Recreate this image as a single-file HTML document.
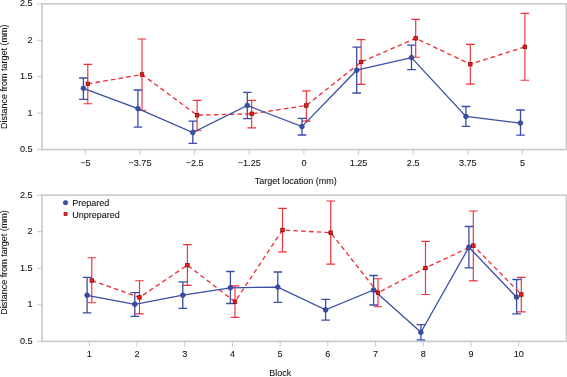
<!DOCTYPE html>
<html><head><meta charset="utf-8"><style>
html,body{margin:0;padding:0;background:#fff;width:567px;height:377px;overflow:hidden}
svg{display:block;will-change:transform;filter:blur(0.3px)}
text{font-family:"Liberation Sans",sans-serif;font-size:9.0px;fill:#111;stroke:#111;stroke-width:0.08px}
text.t{font-size:9.1px}
</style></head><body>
<svg width="567" height="377" viewBox="0 0 567 377">
<rect x="42.0" y="3.8" width="524.4" height="145.79999999999998" fill="none" stroke="#c9c9c9" stroke-width="1.6"/>
<line x1="37" y1="149.60" x2="42.0" y2="149.60" stroke="#c9c9c9" stroke-width="1"/>
<text class="t" x="32.6" y="152.20" text-anchor="end">0.5</text>
<line x1="37" y1="113.15" x2="42.0" y2="113.15" stroke="#c9c9c9" stroke-width="1"/>
<text class="t" x="32.6" y="115.75" text-anchor="end">1</text>
<line x1="37" y1="76.70" x2="42.0" y2="76.70" stroke="#c9c9c9" stroke-width="1"/>
<text class="t" x="32.6" y="79.30" text-anchor="end">1.5</text>
<line x1="37" y1="40.25" x2="42.0" y2="40.25" stroke="#c9c9c9" stroke-width="1"/>
<text class="t" x="32.6" y="42.85" text-anchor="end">2</text>
<line x1="37" y1="3.80" x2="42.0" y2="3.80" stroke="#c9c9c9" stroke-width="1"/>
<text class="t" x="32.6" y="6.40" text-anchor="end">2.5</text>
<line x1="85.35" y1="149.6" x2="85.35" y2="154.79999999999998" stroke="#c9c9c9" stroke-width="1"/>
<text class="t" x="85.35" y="165.90" text-anchor="middle">−5</text>
<line x1="139.99" y1="149.6" x2="139.99" y2="154.79999999999998" stroke="#c9c9c9" stroke-width="1"/>
<text class="t" x="139.99" y="165.90" text-anchor="middle">−3.75</text>
<line x1="194.63" y1="149.6" x2="194.63" y2="154.79999999999998" stroke="#c9c9c9" stroke-width="1"/>
<text class="t" x="194.63" y="165.90" text-anchor="middle">−2.5</text>
<line x1="249.27" y1="149.6" x2="249.27" y2="154.79999999999998" stroke="#c9c9c9" stroke-width="1"/>
<text class="t" x="249.27" y="165.90" text-anchor="middle">−1.25</text>
<line x1="303.91" y1="149.6" x2="303.91" y2="154.79999999999998" stroke="#c9c9c9" stroke-width="1"/>
<text class="t" x="303.91" y="165.90" text-anchor="middle">0</text>
<line x1="358.55" y1="149.6" x2="358.55" y2="154.79999999999998" stroke="#c9c9c9" stroke-width="1"/>
<text class="t" x="358.55" y="165.90" text-anchor="middle">1.25</text>
<line x1="413.19" y1="149.6" x2="413.19" y2="154.79999999999998" stroke="#c9c9c9" stroke-width="1"/>
<text class="t" x="413.19" y="165.90" text-anchor="middle">2.5</text>
<line x1="467.83" y1="149.6" x2="467.83" y2="154.79999999999998" stroke="#c9c9c9" stroke-width="1"/>
<text class="t" x="467.83" y="165.90" text-anchor="middle">3.75</text>
<line x1="522.47" y1="149.6" x2="522.47" y2="154.79999999999998" stroke="#c9c9c9" stroke-width="1"/>
<text class="t" x="522.47" y="165.90" text-anchor="middle">5</text>
<text x="295.8" y="183.5" text-anchor="middle">Target location (mm)</text>
<text transform="translate(7.1 76.65) rotate(-90)" text-anchor="middle">Distance from target (mm)</text>
<path d="M87.80 64.3V103.7M83.50 64.3H92.10M83.50 103.7H92.10" stroke="#ef3039" stroke-width="1.15" fill="none"/>
<path d="M142.00 39V110.2M137.70 39H146.30M137.70 110.2H146.30" stroke="#ef3039" stroke-width="1.15" fill="none"/>
<path d="M197.10 100.4V130.7M192.80 100.4H201.40M192.80 130.7H201.40" stroke="#ef3039" stroke-width="1.15" fill="none"/>
<path d="M251.70 100.4V127.8M247.40 100.4H256.00M247.40 127.8H256.00" stroke="#ef3039" stroke-width="1.15" fill="none"/>
<path d="M306.30 90.8V121.1M302.00 90.8H310.60M302.00 121.1H310.60" stroke="#ef3039" stroke-width="1.15" fill="none"/>
<path d="M361.10 39.6V84.3M356.80 39.6H365.40M356.80 84.3H365.40" stroke="#ef3039" stroke-width="1.15" fill="none"/>
<path d="M415.70 19.3V57.2M411.40 19.3H420.00M411.40 57.2H420.00" stroke="#ef3039" stroke-width="1.15" fill="none"/>
<path d="M470.30 44.4V84.1M466.00 44.4H474.60M466.00 84.1H474.60" stroke="#ef3039" stroke-width="1.15" fill="none"/>
<path d="M524.90 13.4V80.2M520.60 13.4H529.20M520.60 80.2H529.20" stroke="#ef3039" stroke-width="1.15" fill="none"/>
<path d="M83.40 78V99.4M79.10 78H87.70M79.10 99.4H87.70" stroke="#3b4ea6" stroke-width="1.3" fill="none"/>
<path d="M137.90 90V127.2M133.60 90H142.20M133.60 127.2H142.20" stroke="#3b4ea6" stroke-width="1.3" fill="none"/>
<path d="M192.80 121.1V143.4M188.50 121.1H197.10M188.50 143.4H197.10" stroke="#3b4ea6" stroke-width="1.3" fill="none"/>
<path d="M247.30 92.4V118.6M243.00 92.4H251.60M243.00 118.6H251.60" stroke="#3b4ea6" stroke-width="1.3" fill="none"/>
<path d="M302.00 118.3V135M297.70 118.3H306.30M297.70 135H306.30" stroke="#3b4ea6" stroke-width="1.3" fill="none"/>
<path d="M356.70 47.2V93M352.40 47.2H361.00M352.40 93H361.00" stroke="#3b4ea6" stroke-width="1.3" fill="none"/>
<path d="M411.50 45.2V69.6M407.20 45.2H415.80M407.20 69.6H415.80" stroke="#3b4ea6" stroke-width="1.3" fill="none"/>
<path d="M465.90 106.5V126.3M461.60 106.5H470.20M461.60 126.3H470.20" stroke="#3b4ea6" stroke-width="1.3" fill="none"/>
<path d="M520.50 110V135.2M516.20 110H524.80M516.20 135.2H524.80" stroke="#3b4ea6" stroke-width="1.3" fill="none"/>
<polyline points="87.80,83.85 142.00,74.5 197.10,115.2 251.70,113.8 306.30,105.5 361.10,62 415.70,38.3 470.30,64.2 524.90,46.9" fill="none" stroke="#ef3039" stroke-width="1.35" stroke-dasharray="4.6 3.2"/>
<polyline points="83.40,88.35 137.90,108.6 192.80,132.6 247.30,105.5 302.00,126.6 356.70,70.2 411.50,57.6 465.90,116.5 520.50,123.1" fill="none" stroke="#3b4ea6" stroke-width="1.3"/>
<circle cx="83.40" cy="88.35" r="2.45" fill="#3b4ea6" stroke="#26307a" stroke-width="0.5"/>
<circle cx="137.90" cy="108.6" r="2.45" fill="#3b4ea6" stroke="#26307a" stroke-width="0.5"/>
<circle cx="192.80" cy="132.6" r="2.45" fill="#3b4ea6" stroke="#26307a" stroke-width="0.5"/>
<circle cx="247.30" cy="105.5" r="2.45" fill="#3b4ea6" stroke="#26307a" stroke-width="0.5"/>
<circle cx="302.00" cy="126.6" r="2.45" fill="#3b4ea6" stroke="#26307a" stroke-width="0.5"/>
<circle cx="356.70" cy="70.2" r="2.45" fill="#3b4ea6" stroke="#26307a" stroke-width="0.5"/>
<circle cx="411.50" cy="57.6" r="2.45" fill="#3b4ea6" stroke="#26307a" stroke-width="0.5"/>
<circle cx="465.90" cy="116.5" r="2.45" fill="#3b4ea6" stroke="#26307a" stroke-width="0.5"/>
<circle cx="520.50" cy="123.1" r="2.45" fill="#3b4ea6" stroke="#26307a" stroke-width="0.5"/>
<rect x="86.05" y="82.10" width="3.5" height="3.5" fill="#ff1a1a" stroke="#6a0808" stroke-width="0.75"/>
<rect x="140.25" y="72.75" width="3.5" height="3.5" fill="#ff1a1a" stroke="#6a0808" stroke-width="0.75"/>
<rect x="195.35" y="113.45" width="3.5" height="3.5" fill="#ff1a1a" stroke="#6a0808" stroke-width="0.75"/>
<rect x="249.95" y="112.05" width="3.5" height="3.5" fill="#ff1a1a" stroke="#6a0808" stroke-width="0.75"/>
<rect x="304.55" y="103.75" width="3.5" height="3.5" fill="#ff1a1a" stroke="#6a0808" stroke-width="0.75"/>
<rect x="359.35" y="60.25" width="3.5" height="3.5" fill="#ff1a1a" stroke="#6a0808" stroke-width="0.75"/>
<rect x="413.95" y="36.55" width="3.5" height="3.5" fill="#ff1a1a" stroke="#6a0808" stroke-width="0.75"/>
<rect x="468.55" y="62.45" width="3.5" height="3.5" fill="#ff1a1a" stroke="#6a0808" stroke-width="0.75"/>
<rect x="523.15" y="45.15" width="3.5" height="3.5" fill="#ff1a1a" stroke="#6a0808" stroke-width="0.75"/>
<rect x="42.0" y="195.1" width="524.4" height="146.29999999999998" fill="none" stroke="#c9c9c9" stroke-width="1.6"/>
<line x1="37" y1="341.40" x2="42.0" y2="341.40" stroke="#c9c9c9" stroke-width="1"/>
<text class="t" x="32.6" y="344.00" text-anchor="end">0.5</text>
<line x1="37" y1="304.82" x2="42.0" y2="304.82" stroke="#c9c9c9" stroke-width="1"/>
<text class="t" x="32.6" y="307.43" text-anchor="end">1</text>
<line x1="37" y1="268.25" x2="42.0" y2="268.25" stroke="#c9c9c9" stroke-width="1"/>
<text class="t" x="32.6" y="270.85" text-anchor="end">1.5</text>
<line x1="37" y1="231.67" x2="42.0" y2="231.67" stroke="#c9c9c9" stroke-width="1"/>
<text class="t" x="32.6" y="234.27" text-anchor="end">2</text>
<line x1="37" y1="195.10" x2="42.0" y2="195.10" stroke="#c9c9c9" stroke-width="1"/>
<text class="t" x="32.6" y="197.70" text-anchor="end">2.5</text>
<line x1="89.30" y1="341.4" x2="89.30" y2="346.59999999999997" stroke="#c9c9c9" stroke-width="1"/>
<text class="t" x="89.30" y="356.70" text-anchor="middle">1</text>
<line x1="137.01" y1="341.4" x2="137.01" y2="346.59999999999997" stroke="#c9c9c9" stroke-width="1"/>
<text class="t" x="137.01" y="356.70" text-anchor="middle">2</text>
<line x1="184.72" y1="341.4" x2="184.72" y2="346.59999999999997" stroke="#c9c9c9" stroke-width="1"/>
<text class="t" x="184.72" y="356.70" text-anchor="middle">3</text>
<line x1="232.43" y1="341.4" x2="232.43" y2="346.59999999999997" stroke="#c9c9c9" stroke-width="1"/>
<text class="t" x="232.43" y="356.70" text-anchor="middle">4</text>
<line x1="280.14" y1="341.4" x2="280.14" y2="346.59999999999997" stroke="#c9c9c9" stroke-width="1"/>
<text class="t" x="280.14" y="356.70" text-anchor="middle">5</text>
<line x1="327.85" y1="341.4" x2="327.85" y2="346.59999999999997" stroke="#c9c9c9" stroke-width="1"/>
<text class="t" x="327.85" y="356.70" text-anchor="middle">6</text>
<line x1="375.56" y1="341.4" x2="375.56" y2="346.59999999999997" stroke="#c9c9c9" stroke-width="1"/>
<text class="t" x="375.56" y="356.70" text-anchor="middle">7</text>
<line x1="423.27" y1="341.4" x2="423.27" y2="346.59999999999997" stroke="#c9c9c9" stroke-width="1"/>
<text class="t" x="423.27" y="356.70" text-anchor="middle">8</text>
<line x1="470.98" y1="341.4" x2="470.98" y2="346.59999999999997" stroke="#c9c9c9" stroke-width="1"/>
<text class="t" x="470.98" y="356.70" text-anchor="middle">9</text>
<line x1="518.69" y1="341.4" x2="518.69" y2="346.59999999999997" stroke="#c9c9c9" stroke-width="1"/>
<text class="t" x="518.69" y="356.70" text-anchor="middle">10</text>
<text x="280.3" y="376.3" text-anchor="middle">Block</text>
<text transform="translate(7.1 262.5) rotate(-90)" text-anchor="middle">Distance from target (mm)</text>
<path d="M91.80 257.7V302.7M87.50 257.7H96.10M87.50 302.7H96.10" stroke="#ef3039" stroke-width="1.15" fill="none"/>
<path d="M139.50 280.7V313.9M135.20 280.7H143.80M135.20 313.9H143.80" stroke="#ef3039" stroke-width="1.15" fill="none"/>
<path d="M187.40 244.6V285.4M183.10 244.6H191.70M183.10 285.4H191.70" stroke="#ef3039" stroke-width="1.15" fill="none"/>
<path d="M235.00 285.9V317.4M230.70 285.9H239.30M230.70 317.4H239.30" stroke="#ef3039" stroke-width="1.15" fill="none"/>
<path d="M282.50 208.3V251.8M278.20 208.3H286.80M278.20 251.8H286.80" stroke="#ef3039" stroke-width="1.15" fill="none"/>
<path d="M330.70 201V264.1M326.40 201H335.00M326.40 264.1H335.00" stroke="#ef3039" stroke-width="1.15" fill="none"/>
<path d="M378.00 278.7V306.7M373.70 278.7H382.30M373.70 306.7H382.30" stroke="#ef3039" stroke-width="1.15" fill="none"/>
<path d="M425.50 241.4V294.5M421.20 241.4H429.80M421.20 294.5H429.80" stroke="#ef3039" stroke-width="1.15" fill="none"/>
<path d="M473.30 211V280.9M469.00 211H477.60M469.00 280.9H477.60" stroke="#ef3039" stroke-width="1.15" fill="none"/>
<path d="M521.30 277.3V311.8M517.00 277.3H525.60M517.00 311.8H525.60" stroke="#ef3039" stroke-width="1.15" fill="none"/>
<path d="M87.10 277.4V312.9M82.80 277.4H91.40M82.80 312.9H91.40" stroke="#3b4ea6" stroke-width="1.3" fill="none"/>
<path d="M134.80 292.6V316.3M130.50 292.6H139.10M130.50 316.3H139.10" stroke="#3b4ea6" stroke-width="1.3" fill="none"/>
<path d="M182.80 281.8V308.4M178.50 281.8H187.10M178.50 308.4H187.10" stroke="#3b4ea6" stroke-width="1.3" fill="none"/>
<path d="M230.40 271.5V303.5M226.10 271.5H234.70M226.10 303.5H234.70" stroke="#3b4ea6" stroke-width="1.3" fill="none"/>
<path d="M277.80 272V302.3M273.50 272H282.10M273.50 302.3H282.10" stroke="#3b4ea6" stroke-width="1.3" fill="none"/>
<path d="M325.60 299.3V320.1M321.30 299.3H329.90M321.30 320.1H329.90" stroke="#3b4ea6" stroke-width="1.3" fill="none"/>
<path d="M373.60 275.5V305M369.30 275.5H377.90M369.30 305H377.90" stroke="#3b4ea6" stroke-width="1.3" fill="none"/>
<path d="M420.90 324.6V339.8M416.60 324.6H425.20M416.60 339.8H425.20" stroke="#3b4ea6" stroke-width="1.3" fill="none"/>
<path d="M468.90 226.5V267.8M464.60 226.5H473.20M464.60 267.8H473.20" stroke="#3b4ea6" stroke-width="1.3" fill="none"/>
<path d="M516.60 279.5V313.8M512.30 279.5H520.90M512.30 313.8H520.90" stroke="#3b4ea6" stroke-width="1.3" fill="none"/>
<polyline points="91.80,280.5 139.50,297.4 187.40,265.2 235.00,301.7 282.50,230 330.70,232.7 378.00,292.7 425.50,268 473.30,245.6 521.30,294.5" fill="none" stroke="#ef3039" stroke-width="1.35" stroke-dasharray="4.6 3.2"/>
<polyline points="87.10,295.3 134.80,304.3 182.80,295.2 230.40,287.8 277.80,287.1 325.60,309.9 373.60,290 420.90,332.3 468.90,247.2 516.60,297.2" fill="none" stroke="#3b4ea6" stroke-width="1.3"/>
<circle cx="87.10" cy="295.3" r="2.45" fill="#3b4ea6" stroke="#26307a" stroke-width="0.5"/>
<circle cx="134.80" cy="304.3" r="2.45" fill="#3b4ea6" stroke="#26307a" stroke-width="0.5"/>
<circle cx="182.80" cy="295.2" r="2.45" fill="#3b4ea6" stroke="#26307a" stroke-width="0.5"/>
<circle cx="230.40" cy="287.8" r="2.45" fill="#3b4ea6" stroke="#26307a" stroke-width="0.5"/>
<circle cx="277.80" cy="287.1" r="2.45" fill="#3b4ea6" stroke="#26307a" stroke-width="0.5"/>
<circle cx="325.60" cy="309.9" r="2.45" fill="#3b4ea6" stroke="#26307a" stroke-width="0.5"/>
<circle cx="373.60" cy="290" r="2.45" fill="#3b4ea6" stroke="#26307a" stroke-width="0.5"/>
<circle cx="420.90" cy="332.3" r="2.45" fill="#3b4ea6" stroke="#26307a" stroke-width="0.5"/>
<circle cx="468.90" cy="247.2" r="2.45" fill="#3b4ea6" stroke="#26307a" stroke-width="0.5"/>
<circle cx="516.60" cy="297.2" r="2.45" fill="#3b4ea6" stroke="#26307a" stroke-width="0.5"/>
<rect x="90.05" y="278.75" width="3.5" height="3.5" fill="#ff1a1a" stroke="#6a0808" stroke-width="0.75"/>
<rect x="137.75" y="295.65" width="3.5" height="3.5" fill="#ff1a1a" stroke="#6a0808" stroke-width="0.75"/>
<rect x="185.65" y="263.45" width="3.5" height="3.5" fill="#ff1a1a" stroke="#6a0808" stroke-width="0.75"/>
<rect x="233.25" y="299.95" width="3.5" height="3.5" fill="#ff1a1a" stroke="#6a0808" stroke-width="0.75"/>
<rect x="280.75" y="228.25" width="3.5" height="3.5" fill="#ff1a1a" stroke="#6a0808" stroke-width="0.75"/>
<rect x="328.95" y="230.95" width="3.5" height="3.5" fill="#ff1a1a" stroke="#6a0808" stroke-width="0.75"/>
<rect x="376.25" y="290.95" width="3.5" height="3.5" fill="#ff1a1a" stroke="#6a0808" stroke-width="0.75"/>
<rect x="423.75" y="266.25" width="3.5" height="3.5" fill="#ff1a1a" stroke="#6a0808" stroke-width="0.75"/>
<rect x="471.55" y="243.85" width="3.5" height="3.5" fill="#ff1a1a" stroke="#6a0808" stroke-width="0.75"/>
<rect x="519.55" y="292.75" width="3.5" height="3.5" fill="#ff1a1a" stroke="#6a0808" stroke-width="0.75"/>
<circle cx="65.5" cy="202.7" r="2.3" fill="#3b4ea6" stroke="#2a3580" stroke-width="0.5"/>
<rect x="64.0" y="212.5" width="3.1" height="3.1" fill="#ff1a1a" stroke="#6a0808" stroke-width="0.6"/>
<text x="72.2" y="206.4">Prepared</text>
<text x="72.2" y="217.7">Unprepared</text>
</svg>
</body></html>
